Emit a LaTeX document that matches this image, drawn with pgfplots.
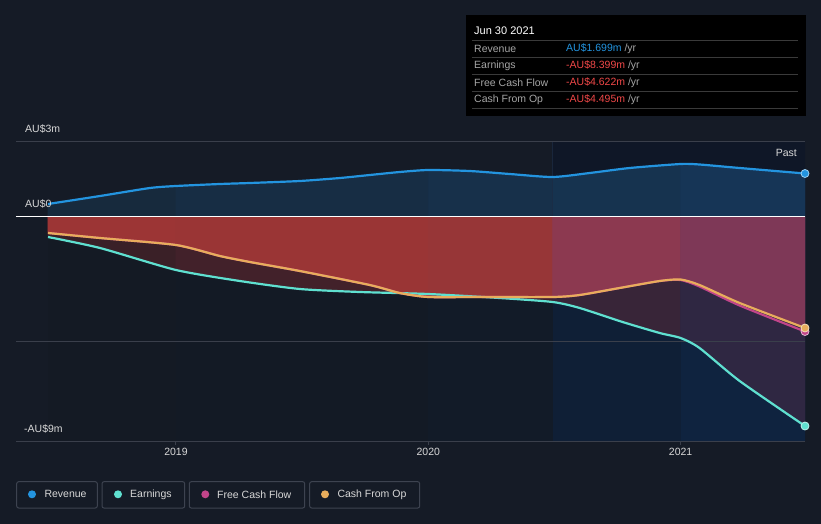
\documentclass[border=0pt]{standalone}
\usepackage{pgfplots}
\pgfplotsset{compat=1.18}
\usepackage{fontspec}
\setmainfont{Liberation Sans}

\definecolor{bg}{HTML}{151B26}
\definecolor{rev}{HTML}{2394DF}
\definecolor{earn}{HTML}{5FE0D0}
\definecolor{fcf}{HTML}{C2458A}
\definecolor{cfo}{HTML}{E8AD5C}
\definecolor{gridc}{HTML}{3A3F4B}
\definecolor{lbl}{HTML}{D8D8D8}
\definecolor{tipgray}{HTML}{A6A6A6}
\definecolor{neg}{HTML}{F04848}
\definecolor{boxc}{HTML}{3D4350}
\definecolor{tipsep}{HTML}{3A3A3A}
\definecolor{pastbg}{HTML}{0F1727}
\definecolor{pastln}{HTML}{1C2C44}
\definecolor{revE}{HTML}{9CCFF2}
\definecolor{earnE}{HTML}{BFF2EC}
\definecolor{fcfE}{HTML}{E5B8D2}
\definecolor{cfoE}{HTML}{F4DDBB}
% area colours, left to right (five time slices)
\definecolor{ra}{HTML}{172A3D}\definecolor{rb}{HTML}{172D44}\definecolor{rc}{HTML}{17304A}
\definecolor{rd}{HTML}{16334F}\definecolor{re}{HTML}{163556}
\definecolor{na}{HTML}{9C3535}\definecolor{nb}{HTML}{9A3535}\definecolor{nc}{HTML}{973637}
\definecolor{nd}{HTML}{8C3950}\definecolor{ne}{HTML}{7E3857}
\definecolor{ma}{HTML}{3A2027}\definecolor{mb}{HTML}{42212A}\definecolor{mc}{HTML}{40222C}
\definecolor{md}{HTML}{382538}\definecolor{me}{HTML}{2F2742}
\definecolor{la}{HTML}{141A24}\definecolor{lb}{HTML}{131A25}\definecolor{lc}{HTML}{121B28}
\definecolor{ld}{HTML}{0F1F36}\definecolor{le}{HTML}{0F233F}

\newcommand{\f}{\fontsize{10.5}{12}\selectfont}
\newcommand{\area}[2]{\addplot[fill=#1, draw=#1, line width=0.6pt, smooth, tension=0.4] coordinates {#2} \closedcycle;}

% x = years since 2018
\begin{document}
\begin{tikzpicture}
\fill[bg] (0pt,0pt) rectangle (821pt,-524pt);

\begin{axis}[
    at={(16pt,-441pt)}, anchor=south west,
    width=789pt, height=300pt, scale only axis,
    xmin=0.366, xmax=3.493,
    ymin=-9, ymax=3,
    axis line style={draw=none},
    ytick=\empty,
    xtick={1,2,3},
    xticklabels={2019,2020,2021},
    xtick pos=bottom, xtick align=outside,
    major tick length=4pt,
    tick style={draw=gridc, line width=1pt},
    xticklabel style={font=\f, text=lbl},
]
% past period background
\fill[pastbg] (axis cs:2.493,-9) rectangle (axis cs:3.6,3);

% area below earnings
\fill[la] (axis cs:0.493,-9) rectangle (axis cs:1.003,0);
\fill[lb] (axis cs:1.0,-9) rectangle (axis cs:2.003,0);
\fill[lc] (axis cs:2.0,-9) rectangle (axis cs:2.496,0);
\fill[ld] (axis cs:2.493,-9) rectangle (axis cs:3.003,0);
\fill[le] (axis cs:3.0,-9) rectangle (axis cs:3.6,0);

% between earnings and cash from op
\area{ma}{(0.493,-0.84)(0.699,-1.28)(1.0,-2.16)}
\area{mb}{(1.0,-2.16)(1.253,-2.60)(1.491,-2.92)(1.729,-3.04)(2.0,-3.12)}
\area{mc}{(2.0,-3.12)(2.283,-3.28)(2.493,-3.44)}
\area{md}{(2.493,-3.44)(2.6,-3.68)(2.770,-4.24)(2.917,-4.68)(3.0,-4.88)}
\area{me}{(3.0,-4.88)(3.075,-5.28)(3.234,-6.60)(3.493,-8.40)}

% between cash from op and zero
\area{na}{(0.493,-0.68)(0.699,-0.88)(1.0,-1.16)}
\area{nb}{(1.0,-1.16)(1.174,-1.60)(1.293,-1.84)(1.491,-2.20)(1.768,-2.76)(1.887,-3.08)(2.0,-3.24)}
\area{nc}{(2.0,-3.24)(2.206,-3.24)(2.493,-3.24)}
\area{nd}{(2.493,-3.24)(2.6,-3.16)(2.758,-2.88)(2.917,-2.60)(3.0,-2.54)}
\area{ne}{(3.0,-2.54)(3.075,-2.76)(3.234,-3.48)(3.493,-4.48)}

% under revenue
\area{ra}{(0.493,0.48)(0.699,0.80)(0.897,1.12)(1.0,1.20)}
\area{rb}{(1.0,1.20)(1.174,1.28)(1.293,1.32)(1.491,1.40)(1.650,1.52)(1.768,1.64)(1.887,1.76)(2.0,1.84)}
\area{rc}{(2.0,1.84)(2.164,1.80)(2.323,1.68)(2.493,1.56)}
\area{rd}{(2.493,1.56)(2.640,1.72)(2.798,1.92)(3.0,2.08)}
\area{re}{(3.0,2.08)(3.075,2.06)(3.234,1.92)(3.493,1.70)}

% grid lines
\draw[pastln, line width=0.8pt, opacity=0.7] (axis cs:2.493,0) -- (axis cs:2.493,3);
\draw[gridc, line width=1pt] (axis cs:0.366,3) -- (axis cs:3.493,3);
\draw[gridc, line width=1pt] (axis cs:0.366,-5) -- (axis cs:3.493,-5);
\draw[gridc, line width=1pt] (axis cs:0.366,-9) -- (axis cs:3.493,-9);
\draw[white, line width=1pt] (axis cs:0.366,0) -- (axis cs:3.493,0);

% lines
\addplot[rev, line width=2.2pt, smooth, tension=0.4] coordinates {
(0.493,0.48)(0.699,0.80)(0.897,1.12)(1.0,1.20)(1.174,1.28)
(1.293,1.32)(1.491,1.40)(1.650,1.52)(1.768,1.64)(1.887,1.76)
(2.0,1.84)(2.164,1.80)(2.323,1.68)(2.493,1.56)(2.640,1.72)
(2.798,1.92)(3.0,2.08)(3.075,2.06)(3.234,1.92)(3.493,1.70)};
\addplot[earn, line width=2.2pt, smooth, tension=0.4] coordinates {
(0.493,-0.84)(0.699,-1.28)(1.0,-2.16)(1.253,-2.60)(1.491,-2.92)
(1.729,-3.04)(2.0,-3.12)(2.283,-3.28)(2.493,-3.44)(2.6,-3.68)
(2.770,-4.24)(2.917,-4.68)(3.0,-4.88)(3.075,-5.28)(3.234,-6.60)
(3.493,-8.40)};
\addplot[fcf, line width=2.2pt, smooth, tension=0.4] coordinates {
(0.493,-0.68)(0.699,-0.88)(1.0,-1.16)(1.174,-1.60)(1.293,-1.84)
(1.491,-2.20)(1.768,-2.76)(1.887,-3.08)(2.0,-3.24)(2.206,-3.24)
(2.493,-3.24)(2.6,-3.16)(2.758,-2.88)(2.917,-2.60)(3.0,-2.56)
(3.075,-2.82)(3.234,-3.58)(3.493,-4.62)};
\addplot[cfo, line width=2.2pt, smooth, tension=0.4] coordinates {
(0.493,-0.68)(0.699,-0.88)(1.0,-1.16)(1.174,-1.60)(1.293,-1.84)
(1.491,-2.20)(1.768,-2.76)(1.887,-3.08)(2.0,-3.24)(2.206,-3.24)
(2.493,-3.24)(2.6,-3.16)(2.758,-2.88)(2.917,-2.60)(3.0,-2.54)
(3.075,-2.76)(3.234,-3.48)(3.493,-4.48)};

% end markers
\addplot[only marks, mark=*, mark size=4pt, mark options={fill=rev, draw=revE, line width=0.8pt}] coordinates {(3.493,1.70)};
\addplot[only marks, mark=*, mark size=4pt, mark options={fill=earn, draw=earnE, line width=0.8pt}] coordinates {(3.493,-8.40)};
\addplot[only marks, mark=*, mark size=4pt, mark options={fill=fcf, draw=fcfE, line width=0.8pt}] coordinates {(3.493,-4.62)};
\addplot[only marks, mark=*, mark size=4pt, mark options={fill=cfo, draw=cfoE, line width=0.8pt}] coordinates {(3.493,-4.48)};
\end{axis}

\begin{scope}[x=1pt, y=-1pt]
% y labels
\node[anchor=west, text=lbl, font=\f, inner sep=0pt] at (25,129) {AU\$3m};
\node[anchor=west, text=lbl, font=\f, inner sep=0pt] at (25,204) {AU\$0};
\node[anchor=west, text=lbl, font=\f, inner sep=0pt] at (24,429) {-AU\$9m};
\node[anchor=east, text=lbl, font=\f, inner sep=0pt] at (797,153) {Past};

% tooltip
\fill[black] (466,15) rectangle (806,116);
\node[anchor=west, text=white, font=\fontsize{11}{12}\selectfont, inner sep=0pt] at (474,31) {Jun 30 2021};
\foreach \yy in {40,57.3,74.5,91.3,108.3} {
  \draw[tipsep, line width=0.8pt] (472,\yy) -- (798,\yy);
}
\node[anchor=west, text=tipgray, font=\f, inner sep=0pt] at (474,48.5) {Revenue};
\node[anchor=west, text=tipgray, font=\f, inner sep=0pt] at (474,65.5) {Earnings};
\node[anchor=west, text=tipgray, font=\f, inner sep=0pt] at (474,82.5) {Free Cash Flow};
\node[anchor=west, text=tipgray, font=\f, inner sep=0pt] at (474,99.5) {Cash From Op};
\node[anchor=west, font=\f, inner sep=0pt] at (566,48.5) {\textcolor{rev}{AU\$1.699m}\ \textcolor{tipgray}{/yr}};
\node[anchor=west, font=\f, inner sep=0pt] at (566,65.5) {\textcolor{neg}{-AU\$8.399m}\ \textcolor{tipgray}{/yr}};
\node[anchor=west, font=\f, inner sep=0pt] at (566,82.5) {\textcolor{neg}{-AU\$4.622m}\ \textcolor{tipgray}{/yr}};
\node[anchor=west, font=\f, inner sep=0pt] at (566,99.5) {\textcolor{neg}{-AU\$4.495m}\ \textcolor{tipgray}{/yr}};

% legend
\draw[boxc, line width=1pt, rounded corners=2pt] (16.7,481.7) rectangle (97.3,508);
\draw[boxc, line width=1pt, rounded corners=2pt] (102,481.7) rectangle (184.7,508);
\draw[boxc, line width=1pt, rounded corners=2pt] (189.3,481.7) rectangle (304.7,508);
\draw[boxc, line width=1pt, rounded corners=2pt] (309.7,481.7) rectangle (419.7,508);
\fill[rev] (32,494.3) circle (4);
\fill[earn] (118,494.3) circle (4);
\fill[fcf] (205.3,494.3) circle (4);
\fill[cfo] (325,494.3) circle (4);
\node[anchor=west, text=lbl, font=\f, inner sep=0pt] at (44.3,494.3) {Revenue};
\node[anchor=west, text=lbl, font=\f, inner sep=0pt] at (130,494.3) {Earnings};
\node[anchor=west, text=lbl, font=\f, inner sep=0pt] at (217,494.3) {Free Cash Flow};
\node[anchor=west, text=lbl, font=\f, inner sep=0pt] at (337.3,494.3) {Cash From Op};
\end{scope}
\end{tikzpicture}
\end{document}
